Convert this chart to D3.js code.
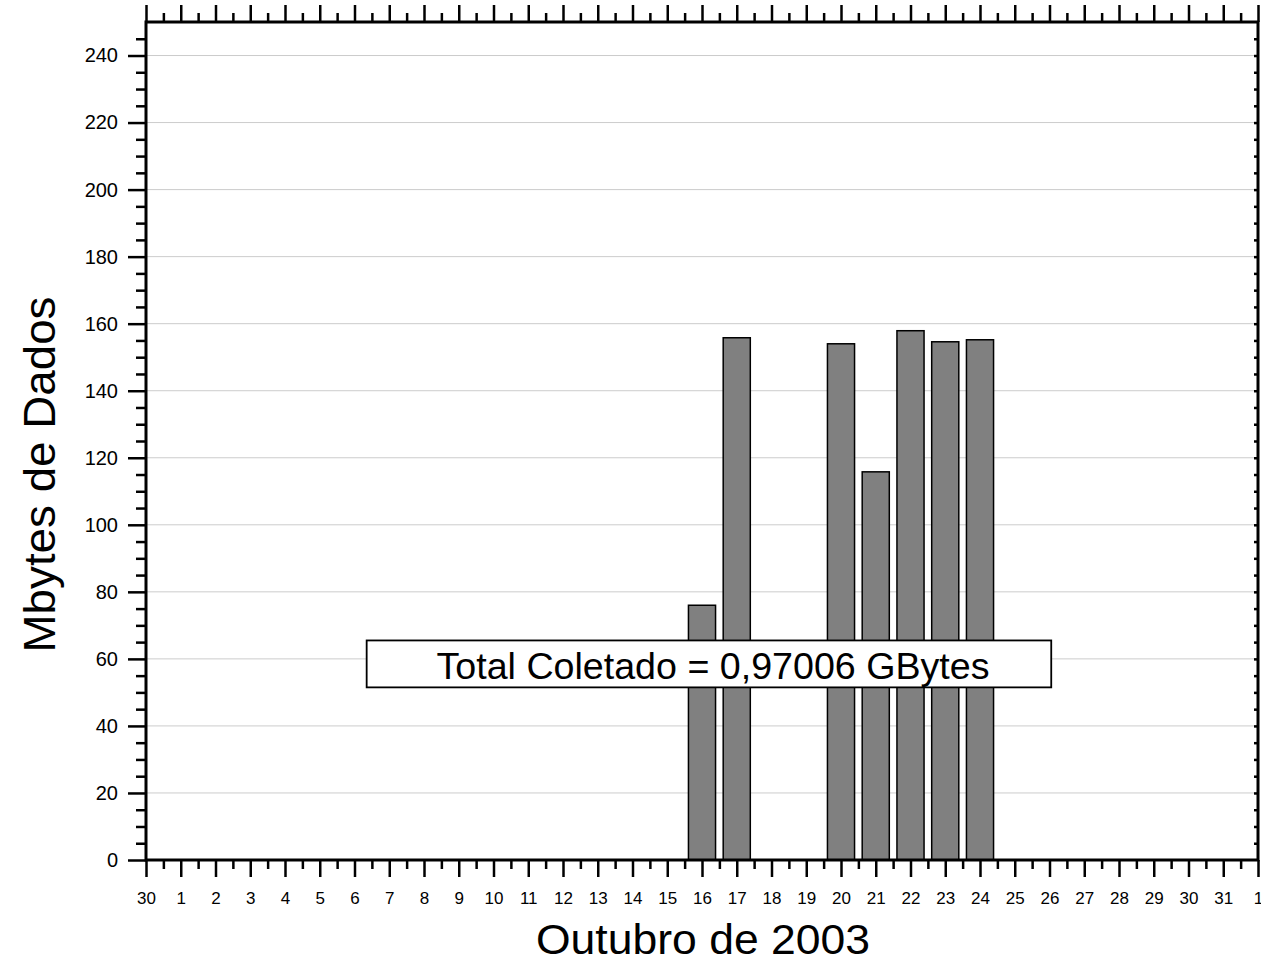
<!DOCTYPE html>
<html><head><meta charset="utf-8">
<script src="https://cdn.jsdelivr.net/npm/d3@7"></script>
<style>body{margin:0;background:#fff}svg{display:block;font-family:"Liberation Sans",Arial,sans-serif}</style>
</head><body><svg id="c" width="1261" height="968"></svg>
<script>
const days = [16, 17, 20, 21, 22, 23, 24];
const mbytes = [76, 155.8, 154, 115.8, 157.9, 154.6, 155.2];
const xTickLabels = ["30","1","2","3","4","5","6","7","8","9","10","11","12","13","14","15","16","17","18","19","20","21","22","23","24","25","26","27","28","29","30","31","1"];
const yTicks = [0,20,40,60,80,100,120,140,160,180,200,220,240];
const boxText = "Total Coletado = 0,97006 GBytes";
const xTitle = "Outubro de 2003";
const yTitle = "Mbytes de Dados";

const svg = d3.select("#c");
const L=146, R=1258, T=22, B=860;
const x = d3.scaleLinear().domain([0,32]).range([L,R]);
const y = d3.scaleLinear().domain([0,250]).range([B,T]);

// grid
svg.append("g").selectAll("line").data(yTicks.filter(d=>d>0)).join("line")
  .attr("x1",L).attr("x2",R).attr("y1",d=>y(d)).attr("y2",d=>y(d))
  .attr("stroke","#cccccc").attr("stroke-width",1);

// bars
const bw = (x(1)-x(0))*0.78;
svg.append("g").selectAll("rect").data(days.map((d,i)=>({d,v:mbytes[i]}))).join("rect")
  .attr("x",d=>x(d.d)-bw/2).attr("width",bw)
  .attr("y",d=>y(d.v)).attr("height",d=>y(0)-y(d.v))
  .attr("fill","#808080").attr("stroke","#000").attr("stroke-width",1.5);

const majorX = d3.range(0,33);
const minorX = d3.range(0.5,32,1);
const majorY = yTicks;
const minorY = d3.range(5,250,5).filter(d=>d%20!==0);
const allY = d3.range(5,250,5);

function styleAxis(g){ g.select(".domain").remove(); g.selectAll("line").attr("stroke","#000").attr("stroke-width",2.5); g.selectAll("text").attr("fill","#000"); }

// bottom
svg.append("g").attr("transform",`translate(0,${B})`)
  .call(d3.axisBottom(x).tickValues(majorX).tickSize(17).tickPadding(15).tickFormat((d,i)=>xTickLabels[i]))
  .call(styleAxis).selectAll("text").attr("font-size",17).attr("font-family","Liberation Sans, Arial");
svg.append("g").attr("transform",`translate(0,${B})`)
  .call(d3.axisBottom(x).tickValues(minorX).tickSize(9).tickFormat(""))
  .call(styleAxis);
// top
svg.append("g").attr("transform",`translate(0,${T})`)
  .call(d3.axisTop(x).tickValues(majorX).tickSize(17).tickFormat(""))
  .call(styleAxis);
svg.append("g").attr("transform",`translate(0,${T})`)
  .call(d3.axisTop(x).tickValues(minorX).tickSize(9).tickFormat(""))
  .call(styleAxis);
// left
svg.append("g").attr("transform",`translate(${L},0)`)
  .call(d3.axisLeft(y).tickValues(majorY).tickSize(18).tickPadding(10))
  .call(styleAxis).selectAll("text").attr("font-size",20).attr("font-family","Liberation Sans, Arial");
svg.append("g").attr("transform",`translate(${L},0)`)
  .call(d3.axisLeft(y).tickValues(minorY).tickSize(10).tickFormat(""))
  .call(styleAxis);
// right
svg.append("g").attr("transform",`translate(${R},0)`)
  .call(d3.axisLeft(y).tickValues(allY).tickSize(4).tickFormat(""))
  .call(styleAxis);

// frame
svg.append("rect").attr("x",L).attr("y",T).attr("width",R-L).attr("height",B-T)
  .attr("fill","none").attr("stroke","#000").attr("stroke-width",3);

// annotation box
const bx = x(6.35), bx2 = x(26.05);
svg.append("rect").attr("x",bx).attr("y",y(65.5)).attr("width",bx2-bx).attr("height",y(51.5)-y(65.5))
  .attr("fill","#fff").attr("stroke","#000").attr("stroke-width",1.8);
svg.append("text").attr("x",713).attr("y",y(54)).attr("text-anchor","middle")
  .attr("font-size",36).attr("textLength",553).attr("lengthAdjust","spacingAndGlyphs").text(boxText);

// titles
svg.append("text").attr("x",703).attr("y",954).attr("text-anchor","middle").attr("font-size",42)
  .attr("textLength",334).attr("lengthAdjust","spacingAndGlyphs").text(xTitle);
svg.append("text").attr("transform",`translate(55,${y(115)}) rotate(-90)`).attr("text-anchor","middle").attr("font-size",45)
  .attr("textLength",356).attr("lengthAdjust","spacingAndGlyphs").text(yTitle);
</script></body></html>
